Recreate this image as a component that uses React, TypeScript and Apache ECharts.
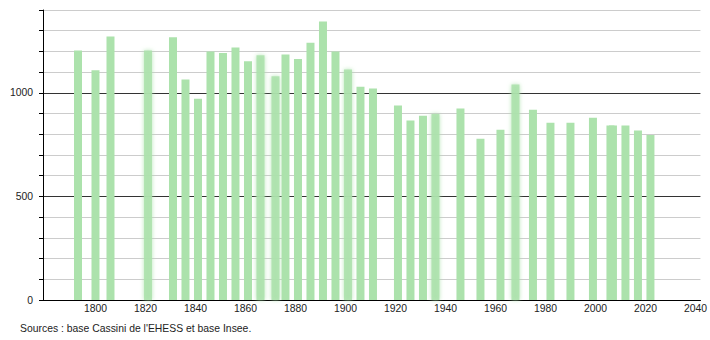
import React, { useEffect, useRef } from "react";
import * as echarts from "echarts";

const years = [1793, 1800, 1806, 1821, 1831, 1836, 1841, 1846, 1851, 1856, 1861, 1866, 1872, 1876, 1881, 1886, 1891, 1896, 1901, 1906, 1911, 1921, 1926, 1931, 1936, 1946, 1954, 1962, 1968, 1975, 1982, 1990, 1999, 2006, 2007, 2012, 2017, 2022];
const population = [1205, 1109, 1272, 1205, 1268, 1064, 972, 1200, 1192, 1219, 1153, 1182, 1080, 1185, 1164, 1242, 1345, 1200, 1113, 1029, 1021, 939, 866, 890, 898, 924, 779, 822, 1040, 919, 856, 856, 880, 842, 842, 842, 818, 797];
const blurredYears = [1821, 1866, 1872, 1901, 1936, 1968];
const xTickLabels = [1800, 1820, 1840, 1860, 1880, 1900, 1920, 1940, 1960, 1980, 2000, 2020, 2040];
const yLabelValues = [0, 500, 1000];
const sourceText = "Sources : base Cassini de l'EHESS et base Insee.";

const GREEN = "rgb(172,226,172)";
const FONT = "Liberation Sans, Arial, sans-serif";

export default function App() {
  const ref = useRef<HTMLDivElement>(null);
  useEffect(() => {
    if (!ref.current) return;
    const chart = echarts.init(ref.current, null, { renderer: "svg" });
    const data = years.map((y, i) => {
      const item: any = { value: [y, population[i]] };
      if (blurredYears.includes(y))
        item.itemStyle = {
          color: "rgba(172,226,172,0.85)",
          shadowBlur: 4,
          shadowColor: "rgba(172,226,172,1)",
        };
      return item;
    });
    chart.setOption({
      animation: false,
      textStyle: { fontFamily: FONT },
      grid: { left: 43, top: 10, width: 658, height: 290, containLabel: false },
      xAxis: {
        type: "value",
        min: 1779,
        max: 2042,
        axisLine: { show: true, lineStyle: { color: "#000", width: 1 } },
        axisTick: { show: false },
        splitLine: { show: false },
        axisLabel: {
          customValues: xTickLabels,
          color: "#222",
          fontSize: 10.4,
          fontFamily: FONT,
          margin: 3,
          formatter: (v: number) => String(v),
        },
      },
      yAxis: {
        type: "value",
        min: 0,
        max: 1400,
        interval: 100,
        axisLine: { show: true, lineStyle: { color: "#000", width: 1 } },
        axisTick: { show: true, length: 4, lineStyle: { color: "#000" } },
        splitLine: {
          show: true,
          lineStyle: { color: ["#333", "#ccc", "#ccc", "#ccc", "#ccc"], width: 1 },
        },
        axisLabel: {
          color: "#222",
          fontSize: 10.4,
          fontFamily: FONT,
          margin: 10,
          formatter: (v: number) => (yLabelValues.includes(v) ? String(v) : ""),
        },
      },
      series: [
        {
          type: "bar",
          barWidth: 8,
          itemStyle: { color: GREEN },
          data,
        },
      ],
      graphic: [
        {
          type: "text",
          left: 20,
          top: 323,
          style: { text: sourceText, fill: "#222", font: `10.4px ${FONT}` },
        },
      ],
    });
    return () => chart.dispose();
  }, []);
  return (
    <div
      ref={ref}
      style={{ position: "fixed", left: 0, top: 0, width: 710, height: 340, background: "#fff" }}
    />
  );
}
